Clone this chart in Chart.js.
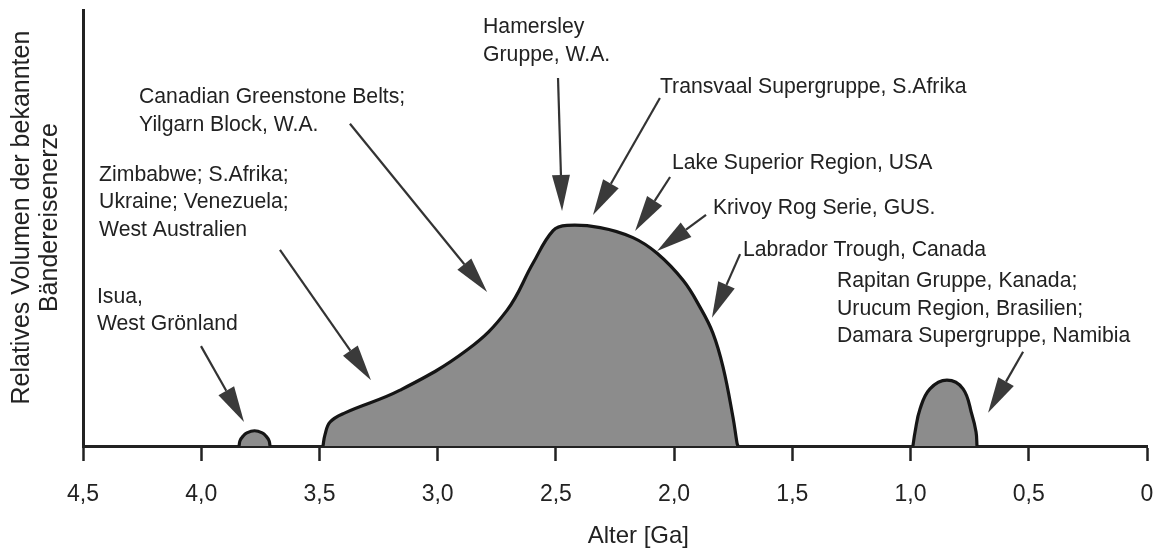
<!DOCTYPE html>
<html>
<head>
<meta charset="utf-8">
<script src="https://cdn.jsdelivr.net/npm/chart.js@4.4.1/dist/chart.umd.min.js"></script>
<style>
  html, body { margin: 0; padding: 0; background: #ffffff; }
  #wrap { width: 1156px; height: 551px; position: relative; }
</style>
</head>
<body>
<div id="wrap"><canvas id="c" width="1156" height="551"></canvas></div>
<script>
// ---- Data (age in Ga, relative volume 0..100) ----
const isuaAge   = [3.840, 3.836, 3.824, 3.807, 3.7745, 3.742, 3.725, 3.713, 3.709];
const isuaVal   = [0, 1.2, 2.2, 3.0, 3.5, 3.0, 2.2, 1.2, 0];

const mainAge   = [3.485, 3.477, 3.455, 3.392, 3.159, 2.876, 2.707, 2.597, 2.512, 2.453, 2.313, 2.174, 2.072, 1.962, 1.890, 1.836, 1.793, 1.751, 1.734, 1.730];
const mainVal   = [0, 2.5, 5.5, 7.6, 12.8, 22.0, 31.1, 41.9, 49.4, 50.6, 50.1, 47.8, 44.2, 38.0, 31.8, 25.9, 18.1, 6.6, 0.7, 0];

const youngAge  = [0.990, 0.981, 0.960, 0.918, 0.846, 0.778, 0.740, 0.723, 0.719];
const youngVal  = [0, 3.2, 8.5, 13.1, 15.1, 13.1, 7.1, 3.2, 0];

const tickValues = [4.5, 4.0, 3.5, 3.0, 2.5, 2.0, 1.5, 1.0, 0.5, 0];
const tickLabels = ['4,5', '4,0', '3,5', '3,0', '2,5', '2,0', '1,5', '1,0', '0,5', '0'];

const xTitle = 'Alter [Ga]';
const yTitle = ['Relatives Volumen der bekannten', 'Bändereisenerze'];

// ---- Annotations (text anchors and arrows, in data units) ----
const annoText = [
  ['Isua,', 'West Grönland'],
  ['Zimbabwe; S.Afrika;', 'Ukraine; Venezuela;', 'West Australien'],
  ['Canadian Greenstone Belts;', 'Yilgarn Block, W.A.'],
  ['Hamersley', 'Gruppe, W.A.'],
  ['Transvaal Supergruppe, S.Afrika'],
  ['Lake Superior Region, USA'],
  ['Krivoy Rog Serie, GUS.'],
  ['Labrador Trough, Canada'],
  ['Rapitan Gruppe, Kanada;', 'Urucum Region, Brasilien;', 'Damara Supergruppe, Namibia']
];
const annoAge     = [4.441, 4.432, 4.263, 2.808, 2.060, 2.009, 1.836, 1.709, 1.311];
const annoVal     = [34.2, 62.2, 80.0, 96.0, 82.3, 64.9, 54.6, 45.0, 37.8];
const arrowFromAge = [4.001, 3.667, 3.371, 2.491, 2.060, 2.017, 1.865, 1.721, 0.524];
const arrowFromVal = [22.9, 45.0, 73.9, 84.4, 79.8, 61.7, 53.0, 44.0, 21.6];
const arrowToAge   = [3.819, 3.282, 2.791, 2.474, 2.343, 2.165, 2.072, 1.840, 0.672];
const arrowToVal   = [5.5, 15.1, 35.3, 53.9, 53.0, 49.3, 44.7, 29.4, 7.6];

function pts(ages, vals) { return ages.map((a, i) => ({ x: a, y: vals[i] })); }

const FONT = "'Liberation Sans', Arial, Helvetica, sans-serif";
const INK = '#222222';

const annotationPlugin = {
  id: 'annotations',
  afterDatasetsDraw(chart) {
    const ctx = chart.ctx;
    const xs = chart.scales.x, ys = chart.scales.y;
    ctx.save();
    ctx.font = '21.2px ' + FONT;
    ctx.fillStyle = INK;
    ctx.textAlign = 'left';
    ctx.textBaseline = 'middle';
    const lh = 27.5;
    annoText.forEach((lines, i) => {
      const px = xs.getPixelForValue(annoAge[i]);
      const py = ys.getPixelForValue(annoVal[i]);
      lines.forEach((t, j) => ctx.fillText(t, px, py + j * lh));
    });
    // arrows
    ctx.strokeStyle = '#333333';
    ctx.fillStyle = '#3a3a3a';
    ctx.lineWidth = 2.2;
    const headLen = 36, headHalf = 9;
    for (let i = 0; i < arrowFromAge.length; i++) {
      const x1 = xs.getPixelForValue(arrowFromAge[i]);
      const y1 = ys.getPixelForValue(arrowFromVal[i]);
      const x2 = xs.getPixelForValue(arrowToAge[i]);
      const y2 = ys.getPixelForValue(arrowToVal[i]);
      const ang = Math.atan2(y2 - y1, x2 - x1);
      const bx = x2 - headLen * Math.cos(ang);
      const by = y2 - headLen * Math.sin(ang);
      ctx.beginPath();
      ctx.moveTo(x1, y1);
      ctx.lineTo(bx, by);
      ctx.stroke();
      ctx.beginPath();
      ctx.moveTo(x2, y2);
      ctx.lineTo(bx + headHalf * Math.sin(ang), by - headHalf * Math.cos(ang));
      ctx.lineTo(bx - headHalf * Math.sin(ang), by + headHalf * Math.cos(ang));
      ctx.closePath();
      ctx.fill();
    }
    ctx.restore();
  }
};

const shapeStyle = {
  fill: 'origin',
  backgroundColor: '#8c8c8c',
  borderColor: '#151515',
  borderWidth: 3.2,
  pointRadius: 0,
  tension: 0.4,
  showLine: true
};

new Chart(document.getElementById('c'), {
  type: 'scatter',
  data: {
    datasets: [
      Object.assign({ label: 'Isua', data: pts(isuaAge, isuaVal) }, shapeStyle),
      Object.assign({ label: 'Archaikum–Paläoproterozoikum', data: pts(mainAge, mainVal) }, shapeStyle),
      Object.assign({ label: 'Neoproterozoikum', data: pts(youngAge, youngVal) }, shapeStyle)
    ]
  },
  options: {
    responsive: false,
    animation: false,
    layout: { padding: { left: 0, right: 9, top: 10, bottom: 0 } },
    plugins: { legend: { display: false }, tooltip: { enabled: false } },
    elements: { line: { capBezierPoints: true } },
    scales: {
      x: {
        type: 'linear',
        reverse: true,
        min: 0, max: 4.5,
        afterBuildTicks: (s) => { s.ticks = tickValues.map(v => ({ value: v })); },
        afterFit: (s) => { s.height = 105; s.paddingLeft = 0; s.paddingRight = 0; },
        ticks: {
          autoSkip: false,
          maxRotation: 0,
          padding: 20,
          color: INK,
          font: { family: FONT, size: 23 },
          callback: (v) => { const k = tickValues.indexOf(v); return k >= 0 ? tickLabels[k] : ''; }
        },
        grid: { drawOnChartArea: false, drawTicks: true, tickLength: 15, tickWidth: 2.5, tickColor: INK },
        border: { display: true, color: INK, width: 3 },
        title: { display: true, text: '       ' + xTitle, color: INK, font: { family: FONT, size: 24 }, padding: { top: 0, bottom: 0 } }
      },
      y: {
        min: 0, max: 100,
        afterFit: (s) => { s.width = 83; s.paddingTop = 0; s.paddingBottom = 0; },
        ticks: { display: false },
        grid: { display: false, drawTicks: false },
        border: { display: true, color: INK, width: 3 },
        title: { display: true, text: yTitle.map(t => '   ' + t), color: INK, font: { family: FONT, size: 25, lineHeight: 1.12 }, padding: { top: 8, bottom: 0 } }
      }
    }
  },
  plugins: [annotationPlugin]
});
</script>
</body>
</html>
